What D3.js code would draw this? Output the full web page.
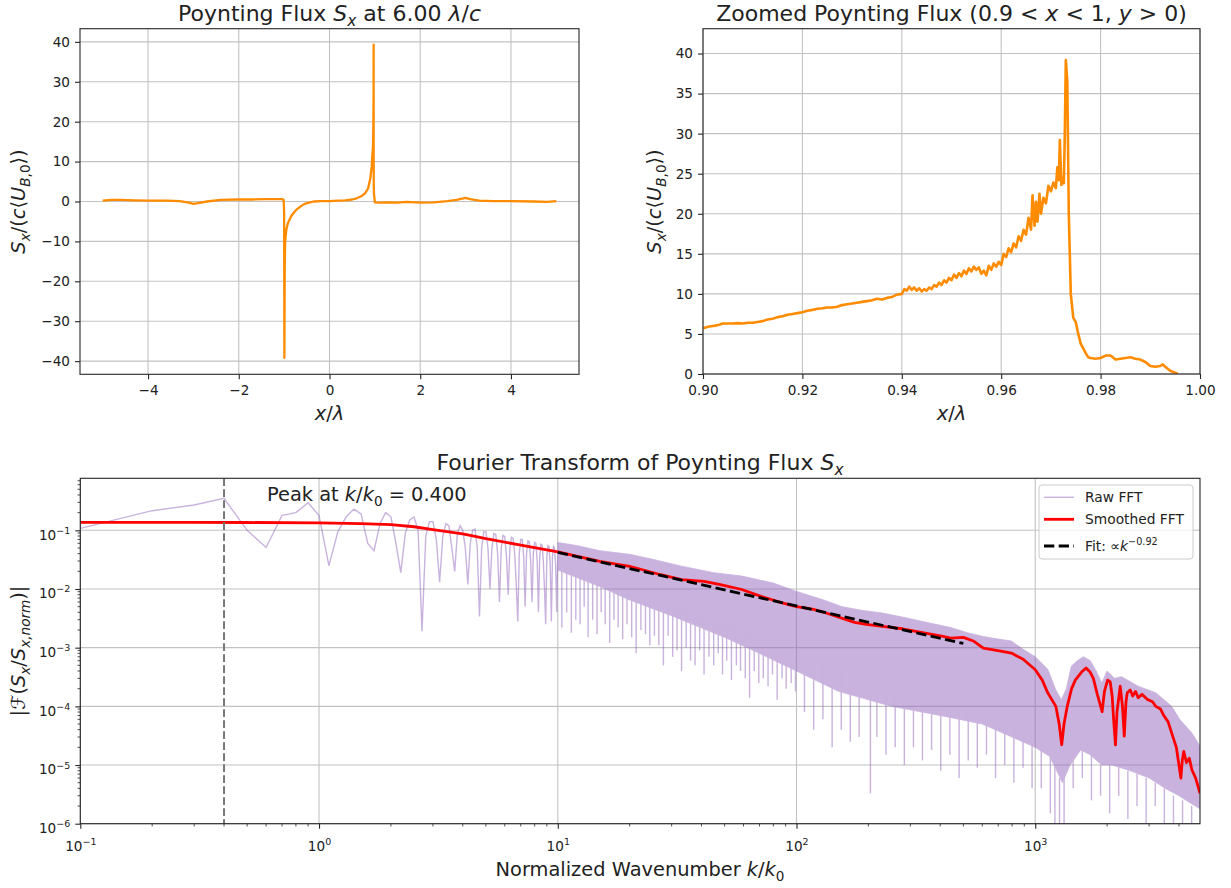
<!DOCTYPE html>
<html>
<head>
<meta charset="utf-8">
<script src="https://cdn.jsdelivr.net/npm/d3@7"></script>
<style>
  body { margin: 0; background: #fff; }
  text { font-family: "DejaVu Sans", sans-serif; fill: #222; }
</style>
</head>
<body>
<svg id="fig" width="1231" height="888"></svg>
<script>
// ---- top left: full Poynting flux profile ----
var fluxX = [-5.0,-4.8,-4.6,-4.3,-4.0,-3.6,-3.3,-3.1,-3.0,-2.9,-2.7,-2.4,-2.0,-1.7,-1.4,-1.2,-1.05,-1.01,-1.0,-0.995,-0.99,-0.985,-0.98,-0.97,-0.95,-0.92,-0.88,-0.84,-0.8,-0.75,-0.7,-0.62,-0.55,-0.45,-0.35,-0.2,0.0,0.2,0.35,0.5,0.6,0.7,0.78,0.85,0.9,0.93,0.95,0.96,0.965,0.97,0.972,0.973,0.974,0.976,0.98,0.99,1.0,1.1,1.3,1.5,1.7,2.0,2.3,2.6,2.8,2.95,3.0,3.1,3.3,3.6,4.0,4.5,4.8,5.0];
var fluxY = [0.2,0.4,0.4,0.3,0.2,0.2,0.1,-0.3,-0.6,-0.4,0.0,0.4,0.5,0.5,0.6,0.6,0.6,0.4,-3,-39.2,-25,-14,-11,-9,-7,-5.5,-4.5,-3.6,-3,-2.3,-1.8,-1.1,-0.6,-0.3,0,0.1,0.1,0.2,0.3,0.5,0.8,1.3,2.0,3.2,5.8,8.8,12.5,14,18,23,28,39.3,10,4,2,0.9,-0.2,-0.3,-0.2,-0.3,-0.1,-0.3,-0.2,0.1,0.4,0.8,0.9,0.6,0.2,0.1,0.1,0,-0.1,0.1];
var fluxXTicks = [-4, -2, 0, 2, 4];
var fluxYTicks = [-40, -30, -20, -10, 0, 10, 20, 30, 40];

// ---- top right: zoom 0.9 < x < 1 ----
var zoomX = [0.900,0.901,0.902,0.903,0.904,0.905,0.906,0.907,0.908,0.909,0.910,0.911,0.912,0.913,0.914,0.915,0.916,0.917,0.918,0.919,0.920,0.921,0.922,0.923,0.924,0.925,0.926,0.927,0.928,0.929,0.930,0.931,0.932,0.933,0.934,0.935,0.936,0.937,0.938,0.939,
  0.940,0.9405,0.941,0.9415,0.942,0.9425,0.943,0.9435,0.944,0.9445,0.945,0.9455,0.946,0.9465,0.947,0.9475,0.948,0.9485,0.949,0.9495,0.950,0.9505,0.951,0.9515,0.952,0.9525,0.953,0.9535,0.954,0.9545,0.955,0.9555,0.956,0.9565,0.957,0.9575,0.958,0.9585,0.959,0.9595,
  0.960,0.9605,0.961,0.9615,0.962,0.9625,0.963,0.9635,0.964,0.9645,0.965,0.9655,0.966,0.9663,0.9667,0.967,0.9673,0.9677,0.968,0.9685,0.969,0.9695,0.970,0.9705,0.971,0.9713,0.9716,0.9718,0.9721,0.9724,0.9726,0.9728,0.9730,0.9733,0.9736,0.9740,0.9745,0.9750,0.9755,0.9760,0.9770,0.9775,
  0.978,0.979,0.980,0.981,0.982,0.983,0.984,0.985,0.986,0.987,0.988,0.989,0.990,0.991,0.992,0.9925,0.993,0.994,0.995,0.9955];
var zoomY = [5.7,5.9,6.0,6.1,6.3,6.3,6.3,6.35,6.3,6.4,6.4,6.5,6.6,6.8,6.9,7.1,7.2,7.4,7.5,7.6,7.7,7.9,8.0,8.15,8.2,8.3,8.3,8.4,8.6,8.7,8.8,8.9,9.0,9.1,9.2,9.4,9.3,9.5,9.6,9.9,
  10.0,10.6,10.4,10.9,10.5,10.8,10.4,10.7,10.3,10.6,10.4,10.8,10.6,11.1,10.9,11.4,11.1,11.7,11.4,12.0,11.7,12.4,12.0,12.6,12.2,12.9,12.5,13.2,12.8,13.4,13.0,13.3,12.5,12.9,12.3,13.5,13.0,13.8,13.4,14.0,
  13.6,15.0,14.6,15.7,15.2,16.3,15.8,17.2,16.6,18.0,17.4,19.5,18.0,22.3,18.5,21.5,19.0,22.5,20.0,22.0,21.3,23.5,22.8,23.9,23.2,25.8,24.2,29.2,23.6,24.5,23.8,30.0,39.2,36.5,20.0,10.0,7.0,6.5,5.0,3.8,2.6,2.1,
  2.0,1.9,2.0,2.3,2.3,1.8,1.9,2.0,2.1,1.9,1.8,1.5,1.0,0.9,1.0,1.2,0.9,0.4,0.15,0.05];
var zoomXTicks = [0.90, 0.92, 0.94, 0.96, 0.98, 1.00];
var zoomYTicks = [0, 5, 10, 15, 20, 25, 30, 35, 40];

// ---- bottom: Fourier spectrum ----
// raw FFT, low wavenumbers (one sample per 0.1 k0)
var rawK = [0.1,0.2,0.3,0.4,0.5,0.6,0.7,0.8,0.9,1.0,1.1,1.2,1.3,1.4,1.5,1.6,1.7,1.8,1.9,2.0,2.1,2.2,2.3,2.4,2.5,2.6,2.7,2.8,2.9,3.0,3.1,3.2,3.3,3.4,3.5,3.6,3.7,3.8,3.9,4.0,
  4.1,4.2,4.3,4.4,4.5,4.6,4.7,4.8,4.9,5.0,5.1,5.2,5.3,5.4,5.5,5.6,5.7,5.8,5.9,6.0,6.1,6.2,6.3,6.4,6.5,6.6,6.7,6.8,6.9,7.0,7.1,7.2,7.3,7.4,7.5,7.6,7.7,7.8,7.9,8.0,
  8.1,8.2,8.3,8.4,8.5,8.6,8.7,8.8,8.9,9.0,9.1,9.2,9.3,9.4,9.5,9.6,9.7,9.8,9.9,10.0];
var rawAmp = [0.108,0.216,0.27,0.35,0.10,0.051,0.18,0.2,0.295,0.178,0.025,0.095,0.17,0.23,0.19,0.06,0.045,0.13,0.2,0.17,
  0.06,0.019,0.09,0.15,0.17,0.1,0.0019,0.08,0.14,0.14,0.07,0.013,0.08,0.13,0.12,0.05,0.02,0.09,0.12,0.1,
  0.05,0.012,0.06,0.1,0.105,0.05,0.0034,0.05,0.095,0.095,0.05,0.01,0.05,0.088,0.085,0.04,0.006,0.05,0.082,0.078,
  0.035,0.008,0.05,0.076,0.072,0.04,0.012,0.0028,0.04,0.07,0.07,0.035,0.005,0.04,0.066,0.064,0.03,0.006,0.04,0.062,
  0.06,0.03,0.004,0.035,0.058,0.056,0.03,0.01,0.0025,0.035,0.055,0.053,0.025,0.0028,0.035,0.053,0.05,0.025,0.004,0.035];
// raw FFT, dense part: upper envelope and solid lower edge
var bandHiK = [10,12,15,20,25,33,45,59,80,100,130,155,190,229,280,337,443,520,606,700,794,893,1000,1128,1220,1287,1350,1416,1500,1590,1700,1800,1900,2000,2150,2300,2700,3200,3730,4030,4530,4900];
var bandHi = [0.062,0.055,0.045,0.039,0.032,0.0245,0.019,0.0166,0.0126,0.0091,0.0065,0.005,0.0043,0.0039,0.0033,0.0028,0.0022,0.0018,0.00155,0.0014,0.0013,0.00093,0.0007,0.00043,0.00019,0.00013,0.0002,0.00048,0.0006,0.0007,0.0006,0.0004,0.00025,0.0004,0.0003,0.00032,0.00022,0.00017,0.0001,0.00006,0.000035,0.000021];
var bandLoK = [10,15,20,30,50,70,100,150,250,400,600,800,1000,1150,1250,1300,1400,1550,1700,1900,2100,2500,3000,3500,4000,4500,4900];
var bandLo = [0.021,0.011,0.0065,0.0035,0.0015,0.0008,0.0004,0.00018,0.0001,0.00007,0.00005,0.00003,0.00002,0.000014,0.000007,0.000005,0.00001,0.000018,0.000015,0.00001,0.00001,0.000008,0.000006,0.000004,0.000003,0.0000022,0.0000018];
// individual deep minima of the raw FFT
var spikeK = [10.4,10.9,11.4,11.9,12.4,12.9,13.4,14.0,14.6,15.2,15.8,16.5,17.2,17.9,18.7,19.5,20.4,21.3,22.3,23.3,24.3,25.4,26.5,27.7,29,30.3,31.6,33,34.5,36,37.6,39.3,41,43,45,47,49,51,53.4,56,58.3,61,63.6,66.5,69.5,72.6,76,79.3,83,87,90.5,95,99,
  108,118,129,141,154,168,183,204,217,237,259,283,309,337,368,402,439,480,524,572,625,682,745,814,889,970,1060,1157,1209,1264,1321,1442,1575,1720,1878,2050,2238,2444,2669,2914,3182,3474,3793,4141,4521];
var spikeTop = [0.02,0.019,0.018,0.017,0.016,0.015,0.014,0.013,0.013,0.012,0.011,0.011,0.010,0.010,0.009,0.009,0.008,0.008,0.0075,0.007,0.0068,0.0065,0.006,0.006,0.0055,0.005,0.005,0.0047,0.0045,0.0042,0.004,0.0038,0.0036,0.0034,0.0032,0.003,0.0028,0.0027,0.0026,0.0025,0.0024,0.0022,0.002,0.0019,0.0018,0.0017,0.0016,0.0015,0.0013,0.0012,0.0011,0.001,0.0009,
  0.0008,0.0007,0.0006,0.0005,0.00042,0.00035,0.0003,0.00025,0.00024,0.0002,0.00019,0.00017,0.00015,0.00013,0.00012,0.00011,0.0001,0.00009,0.00008,0.00007,0.00006,0.00006,0.00005,0.00005,0.00004,0.00003,0.000025,0.00002,0.00001,0.000006,0.000008,0.000015,0.00002,0.000015,0.00001,0.000012,0.00001,0.000008,0.000007,0.000006,0.000005,0.000004,0.000003,0.0000025,0.000002];
var spikeBottom = [0.0022,0.004,0.0018,0.003,0.0025,0.005,0.0015,0.003,0.0017,0.004,0.0025,0.0012,0.003,0.0022,0.0014,0.0025,0.0015,0.0008,0.002,0.0017,0.0011,0.0016,0.0011,0.0005,0.0016,0.0007,0.0009,0.0004,0.001,0.0006,0.0005,0.0009,0.00035,0.0007,0.0005,0.0008,0.00035,0.0006,0.00028,0.0005,0.0004,0.0003,0.00014,0.0004,0.00025,0.0003,0.00022,0.00035,0.00013,0.0003,0.0002,0.00025,0.00018,
  0.00008,0.00004,0.00006,0.00002,0.00004,0.000025,0.00003,0.0000033,0.00003,0.000015,0.00002,0.00001,0.00002,0.000012,0.000018,0.000008,0.000015,0.000006,0.000012,0.000009,0.000015,0.000006,0.00001,0.000005,0.000009,0.000004,0.000004,0.0000015,0.0000008,0.0000008,0.000001,0.000004,0.000006,0.0000025,0.000003,0.0000015,0.000003,0.0000012,0.000002,0.0000009,0.000002,0.0000008,0.0000009,0.0000007,0.0000008];
// smoothed spectrum
var smoothK = [0.1,0.3,0.5,1,1.5,2,2.5,3,4,5,7,10,15,20,27,33,41,48,59,71,87,100,118,133,175,196,229,278,337,411,443,500,550,606,707,794,893,1000,1070,1128,1220,1260,1291,1320,1362,1420,1472,1560,1633,1700,1752,1820,1906,1950,2010,2061,2100,2130,2168,2200,2270,2320,2360,2400,2430,2500,2560,2630,2700,2800,2960,3100,3200,3350,3450,3600,3730,3900,4075,4130,4190,4300,4420,4530,4700,4900];
var smoothAmp = [0.137,0.137,0.136,0.134,0.13,0.125,0.115,0.103,0.087,0.072,0.056,0.043,0.0296,0.0244,0.0175,0.0144,0.0135,0.0119,0.0098,0.0075,0.0058,0.005,0.0045,0.0039,0.0027,0.0025,0.0023,0.0021,0.0018,0.00156,0.00146,0.0015,0.0013,0.00098,0.00088,0.00081,0.00063,0.00042,0.00028,0.00017,0.0001,0.00005,0.000022,0.00005,0.0001,0.0002,0.00028,0.00038,0.00045,0.00038,0.0003,0.00016,0.000081,0.00018,0.00028,0.00026,0.00015,0.00006,0.000022,0.00008,0.00022,0.0001,0.000031,0.00012,0.00017,0.00019,0.00015,0.00018,0.00014,0.00016,0.00013,0.00012,0.0001,0.00009,0.00007,0.000055,0.000035,0.00002,0.000006,0.000012,0.000017,0.000011,0.000013,0.0000083,0.000006,0.0000033];
// power law fit
var fitK = [10, 500];
var fitAmp = [0.042, 0.00118];
var peakK = 0.4;
var fftXTicks = [0.1, 1, 10, 100, 1000];
var fftXExp = [-1, 0, 1, 2, 3];
var fftYTicks = [1e-6, 1e-5, 1e-4, 1e-3, 1e-2, 1e-1];
var fftYExp = [-6, -5, -4, -3, -2, -1];

var svg = d3.select("#fig");
svg.append("rect").attr("width", 1231).attr("height", 888).attr("fill", "#fff");

var TICK = 13.6;

// text with italic / sub / sup pieces
function rich(sel, parts, fs) {
  var cur = 0;
  parts.forEach(function(p) {
    var ts = sel.append("tspan").text(p.t);
    if (p.i) ts.attr("font-style", "italic");
    var off = p.sub ? 0.24 * fs : (p.sup ? -0.42 * fs : 0);
    if (p.sub || p.sup) ts.attr("font-size", (0.7 * fs) + "px");
    if (off !== cur) { ts.attr("dy", off - cur); cur = off; }
  });
}

function label(x, y, fs, parts, rot) {
  var t = svg.append("text")
    .attr("text-anchor", "middle")
    .attr("font-size", fs + "px");
  if (rot) t.attr("transform", "translate(" + x + "," + y + ") rotate(-90)");
  else t.attr("x", x).attr("y", y);
  rich(t, parts, fs);
  return t;
}

function frame(x0, x1, y0, y1) {
  svg.append("rect").attr("x", x0).attr("y", y0)
    .attr("width", x1 - x0).attr("height", y1 - y0)
    .attr("fill", "none").attr("stroke", "#262626").attr("stroke-width", 1.1);
}

function grid(xs, ys, xv, yv) {
  var g = svg.append("g").attr("stroke", "#c2c2c2").attr("stroke-width", 1.1);
  g.selectAll(".gx").data(xv).enter().append("line")
    .attr("x1", function(d) { return xs(d); }).attr("x2", function(d) { return xs(d); })
    .attr("y1", ys.range()[0]).attr("y2", ys.range()[1]);
  g.selectAll(".gy").data(yv).enter().append("line")
    .attr("y1", function(d) { return ys(d); }).attr("y2", function(d) { return ys(d); })
    .attr("x1", xs.range()[0]).attr("x2", xs.range()[1]);
}

function styleAxis(g) {
  g.select(".domain").remove();
  g.selectAll(".tick line").attr("stroke", "#262626").attr("stroke-width", 1.1);
  g.selectAll(".tick text").attr("font-size", TICK + "px").attr("fill", "#222")
    .attr("font-family", "DejaVu Sans, sans-serif");
}

function clip(id, x0, x1, y0, y1) {
  svg.append("clipPath").attr("id", id).append("rect")
    .attr("x", x0).attr("y", y0).attr("width", x1 - x0).attr("height", y1 - y0);
}

function pairs(a, b) { return a.map(function(v, i) { return [v, b[i]]; }); }

// ===== panel 1 =====
var xL = d3.scaleLinear().domain([-5.5, 5.5]).range([80, 579]);
var yL = d3.scaleLinear().domain([-43.3, 43.3]).range([374.3, 28.7]);
grid(xL, yL, fluxXTicks, fluxYTicks);
clip("c1", 80, 579, 28.7, 374.3);
svg.append("path").datum(pairs(fluxX, fluxY))
  .attr("clip-path", "url(#c1)")
  .attr("fill", "none").attr("stroke", "#ff8c00").attr("stroke-width", 2.3)
  .attr("stroke-linejoin", "round")
  .attr("d", d3.line().x(function(d) { return xL(d[0]); }).y(function(d) { return yL(d[1]); }));
frame(80, 579, 28.7, 374.3);
svg.append("g").attr("transform", "translate(0,374.3)")
  .call(d3.axisBottom(xL).tickValues(fluxXTicks).tickSize(5).tickPadding(6).tickSizeOuter(0))
  .call(styleAxis);
svg.append("g").attr("transform", "translate(80,0)")
  .call(d3.axisLeft(yL).tickValues(fluxYTicks).tickSize(5).tickPadding(5).tickSizeOuter(0))
  .call(styleAxis);
label(329.5, 20.5, 22, [{t: "Poynting Flux "}, {t: "S", i: 1}, {t: "x", i: 1, sub: 1}, {t: " at 6.00 "}, {t: "λ", i: 1}, {t: "/"}, {t: "c", i: 1}]);
label(329.5, 420, 19.4, [{t: "x", i: 1}, {t: "/"}, {t: "λ", i: 1}]);
label(25, 201.5, 19.4, [{t: "S", i: 1}, {t: "x", i: 1, sub: 1}, {t: "/("}, {t: "c", i: 1}, {t: "⟨"}, {t: "U", i: 1}, {t: "B", i: 1, sub: 1}, {t: ",0", sub: 1}, {t: "⟩)"}], true);

// ===== panel 2 =====
var xZ = d3.scaleLinear().domain([0.9, 1.0]).range([703, 1200]);
var yZ = d3.scaleLinear().domain([0, 43.1]).range([374, 28.7]);
grid(xZ, yZ, zoomXTicks, zoomYTicks);
clip("c2", 703, 1200, 28.7, 374);
svg.append("path").datum(pairs(zoomX, zoomY))
  .attr("clip-path", "url(#c2)")
  .attr("fill", "none").attr("stroke", "#ff8c00").attr("stroke-width", 2.6)
  .attr("stroke-linejoin", "round")
  .attr("d", d3.line().x(function(d) { return xZ(d[0]); }).y(function(d) { return yZ(d[1]); }));
frame(703, 1200, 28.7, 374);
svg.append("g").attr("transform", "translate(0,374)")
  .call(d3.axisBottom(xZ).tickValues(zoomXTicks).tickFormat(d3.format(".2f")).tickSize(5).tickPadding(6).tickSizeOuter(0))
  .call(styleAxis);
svg.append("g").attr("transform", "translate(703,0)")
  .call(d3.axisLeft(yZ).tickValues(zoomYTicks).tickSize(5).tickPadding(5).tickSizeOuter(0))
  .call(styleAxis);
label(951.5, 20.5, 22, [{t: "Zoomed Poynting Flux (0.9 < "}, {t: "x", i: 1}, {t: " < 1, "}, {t: "y", i: 1}, {t: " > 0)"}]);
label(951.5, 420, 19.4, [{t: "x", i: 1}, {t: "/"}, {t: "λ", i: 1}]);
label(661, 201.5, 19.4, [{t: "S", i: 1}, {t: "x", i: 1, sub: 1}, {t: "/("}, {t: "c", i: 1}, {t: "⟨"}, {t: "U", i: 1}, {t: "B", i: 1, sub: 1}, {t: ",0", sub: 1}, {t: "⟩)"}], true);

// ===== panel 3 =====
var xB = d3.scaleLog().domain([0.1, 4900]).range([80.3, 1200]);
var yB = d3.scaleLog().domain([1e-6, 0.77]).range([823.7, 478.3]);
grid(xB, yB, fftXTicks, fftYTicks);
clip("c3", 80.3, 1200, 478.3, 823.7);
var lineB = d3.line().x(function(d) { return xB(d[0]); }).y(function(d) { return yB(d[1]); });

// raw FFT drawn in one translucent group so overlaps do not darken
var rawG = svg.append("g").attr("clip-path", "url(#c3)").attr("opacity", 0.5);
var bandPts = pairs(bandHiK, bandHi).concat(pairs(bandLoK, bandLo).reverse());
rawG.append("path").datum(bandPts).attr("fill", "#9467bd").attr("stroke", "#9467bd")
  .attr("stroke-width", 0.8).attr("d", function(d) { return lineB(d) + "Z"; });
rawG.append("path").datum(pairs(rawK, rawAmp)).attr("fill", "none")
  .attr("stroke", "#9467bd").attr("stroke-width", 1.4).attr("d", lineB);
rawG.selectAll(".spike").data(spikeK).enter().append("line")
  .attr("x1", function(d) { return xB(d); }).attr("x2", function(d) { return xB(d); })
  .attr("y1", function(d, i) { return yB(spikeTop[i]); })
  .attr("y2", function(d, i) { return yB(spikeBottom[i]); })
  .attr("stroke", "#9467bd").attr("stroke-width", 1.4);

svg.append("path").datum(pairs(smoothK, smoothAmp)).attr("clip-path", "url(#c3)")
  .attr("fill", "none").attr("stroke", "#ff0000").attr("stroke-width", 2.8)
  .attr("stroke-linejoin", "round").attr("d", lineB);
svg.append("path").datum(pairs(fitK, fitAmp)).attr("clip-path", "url(#c3)")
  .attr("fill", "none").attr("stroke", "#000").attr("stroke-width", 2.8)
  .attr("stroke-dasharray", "10.3,4.4").attr("d", lineB);
svg.append("line").attr("x1", xB(peakK)).attr("x2", xB(peakK))
  .attr("y1", 478.3).attr("y2", 823.7)
  .attr("stroke", "#777").attr("stroke-width", 2).attr("stroke-dasharray", "7.7,3.3");
frame(80.3, 1200, 478.3, 823.7);

// major ticks + labels
var axB = svg.append("g").attr("transform", "translate(0,823.7)")
  .call(d3.axisBottom(xB).tickValues(fftXTicks).tickSize(5).tickFormat("").tickSizeOuter(0))
  .call(styleAxis);
axB.selectAll(".tick text").each(function(d, i) {
  var t = d3.select(this).attr("y", 27).attr("dy", null);
  rich(t, [{t: "10"}, {t: (fftXExp[i] < 0 ? "−" + (-fftXExp[i]) : "" + fftXExp[i]), sup: 1}], TICK);
});
var ayB = svg.append("g").attr("transform", "translate(80.3,0)")
  .call(d3.axisLeft(yB).tickValues(fftYTicks).tickSize(5).tickFormat("").tickSizeOuter(0))
  .call(styleAxis);
ayB.selectAll(".tick text").each(function(d, i) {
  var t = d3.select(this).attr("x", -10).attr("dy", "8.7");
  rich(t, [{t: "10"}, {t: "−" + (-fftYExp[i]), sup: 1}], TICK);
});

// minor ticks
var minorX = [], minorY = [];
[0.1, 1, 10, 100, 1000].forEach(function(dec) {
  for (var m = 2; m <= 9; m++) if (dec * m <= 4900) minorX.push(dec * m);
});
[1e-6, 1e-5, 1e-4, 1e-3, 1e-2, 1e-1].forEach(function(dec) {
  for (var m = 2; m <= 9; m++) if (dec * m <= 0.77) minorY.push(dec * m);
});
svg.append("g").selectAll("line").data(minorX).enter().append("line")
  .attr("x1", function(d) { return xB(d); }).attr("x2", function(d) { return xB(d); })
  .attr("y1", 823.7).attr("y2", 826.5).attr("stroke", "#262626").attr("stroke-width", 0.8);
svg.append("g").selectAll("line").data(minorY).enter().append("line")
  .attr("y1", function(d) { return yB(d); }).attr("y2", function(d) { return yB(d); })
  .attr("x1", 80.3).attr("x2", 77.5).attr("stroke", "#262626").attr("stroke-width", 0.8);

label(640, 470, 22, [{t: "Fourier Transform of Poynting Flux "}, {t: "S", i: 1}, {t: "x", i: 1, sub: 1}]);
label(640, 876, 19.4, [{t: "Normalized Wavenumber "}, {t: "k", i: 1}, {t: "/"}, {t: "k", i: 1}, {t: "0", sub: 1}]);
label(25, 651, 19.4, [{t: "|ℱ("}, {t: "S", i: 1}, {t: "x", i: 1, sub: 1}, {t: "/"}, {t: "S", i: 1}, {t: "x,norm", i: 1, sub: 1}, {t: ")|"}], true);

var ann = svg.append("text").attr("x", 267).attr("y", 501).attr("font-size", "19.4px");
rich(ann, [{t: "Peak at "}, {t: "k", i: 1}, {t: "/"}, {t: "k", i: 1}, {t: "0", sub: 1}, {t: " = 0.400"}], 19.4);

// legend
var lg = svg.append("g");
lg.append("rect").attr("x", 1039).attr("y", 485).attr("width", 154).attr("height", 74)
  .attr("rx", 3).attr("fill", "#fff").attr("fill-opacity", 0.8)
  .attr("stroke", "#cccccc").attr("stroke-width", 1);
var legendRows = [
  {y: 497.3, color: "#9467bd", op: 0.5, w: 1.4, dash: null, parts: [{t: "Raw FFT"}], ty: 501.8},
  {y: 519.3, color: "#ff0000", op: 1, w: 2.8, dash: null, parts: [{t: "Smoothed FFT"}], ty: 524.2},
  {y: 546, color: "#000", op: 1, w: 2.8, dash: "10.3,4.4", parts: [{t: "Fit:  ∝"}, {t: "k", i: 1}, {t: "−0.92", sup: 1}], ty: 550.5}
];
legendRows.forEach(function(r) {
  lg.append("line").attr("x1", 1044).attr("x2", 1074).attr("y1", r.y).attr("y2", r.y)
    .attr("stroke", r.color).attr("stroke-opacity", r.op).attr("stroke-width", r.w)
    .attr("stroke-dasharray", r.dash);
  var t = lg.append("text").attr("x", 1085).attr("y", r.ty).attr("font-size", "13.8px");
  rich(t, r.parts, 13.8);
});
</script>
</body>
</html>
